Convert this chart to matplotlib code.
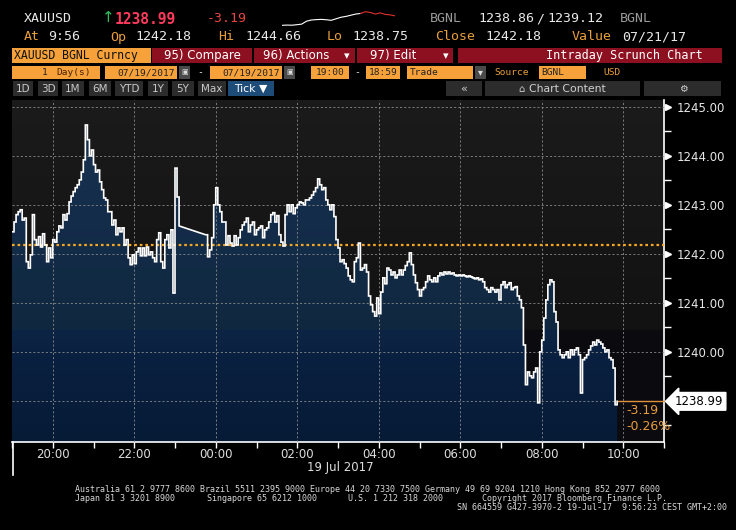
import numpy as np
import pandas as pd
import matplotlib
matplotlib.use("Agg")
import matplotlib.pyplot as plt
import matplotlib.dates as mdates
from matplotlib.patches import Rectangle, PathPatch
from matplotlib.path import Path
from matplotlib.lines import Line2D
from matplotlib.colors import to_rgb
from matplotlib.ticker import MultipleLocator, FuncFormatter

# ---------------- data ----------------
session1_start, session1_end = "2017-07-18 19:00", "2017-07-18 23:06"
session2_start, session2_end = "2017-07-18 23:45", "2017-07-19 09:51"
tick_step = "3min"

session1_prices = [
    1242.45, 1242.65, 1242.80, 1242.86, 1242.90, 1242.69, 1242.73, 1241.84, 1241.71, 1241.98,
    1242.80, 1242.29, 1242.18, 1242.35, 1242.14, 1242.41, 1242.18, 1241.84, 1242.12, 1241.92,
    1242.29, 1242.24, 1242.45, 1242.57, 1242.53, 1242.80, 1242.69, 1242.82, 1243.06, 1243.18,
    1243.27, 1243.35, 1243.41, 1243.51, 1243.67, 1243.92, 1244.63, 1244.33, 1244.00, 1244.12,
    1243.82, 1243.67, 1243.71, 1243.47, 1243.31, 1243.14, 1243.10, 1242.86, 1242.86, 1242.59,
    1242.69, 1242.39, 1242.53, 1242.45, 1242.53, 1242.18, 1242.29, 1241.92, 1241.78, 1241.98,
    1241.80, 1242.04, 1242.12, 1241.96, 1242.12, 1241.96, 1242.14, 1241.98, 1242.04, 1241.92,
    1241.84, 1242.29, 1242.43, 1241.84, 1241.71, 1242.29, 1242.39, 1242.12, 1242.49, 1241.20,
    1243.75, 1243.16, 1242.57]

session2_prices = [
    1242.39, 1241.94, 1242.08, 1242.33, 1243.00, 1243.35, 1243.00, 1242.86, 1242.65, 1242.65,
    1242.18, 1242.37, 1242.22, 1242.16, 1242.37, 1242.18, 1242.33, 1242.49, 1242.59, 1242.65,
    1242.73, 1242.45, 1242.59, 1242.65, 1242.39, 1242.49, 1242.53, 1242.57, 1242.33, 1242.49,
    1242.53, 1242.65, 1242.80, 1242.84, 1242.65, 1242.78, 1242.39, 1242.24, 1242.16, 1242.80,
    1243.00, 1242.86, 1243.00, 1242.82, 1242.94, 1243.00, 1243.06, 1243.04, 1243.00, 1243.10,
    1243.10, 1243.14, 1243.20, 1243.27, 1243.35, 1243.53, 1243.41, 1243.31, 1243.35, 1243.10,
    1243.00, 1242.90, 1243.00, 1242.76, 1242.29, 1242.12, 1241.84, 1241.88, 1241.80, 1241.71,
    1241.55, 1241.47, 1241.43, 1241.84, 1241.92, 1242.22, 1241.67, 1241.71, 1241.78, 1241.63,
    1241.14, 1240.96, 1240.82, 1240.73, 1241.10, 1240.78, 1241.22, 1241.51, 1241.39, 1241.71,
    1241.67, 1241.57, 1241.63, 1241.51, 1241.57, 1241.67, 1241.57, 1241.67, 1241.76, 1241.84,
    1242.02, 1241.78, 1241.57, 1241.41, 1241.27, 1241.14, 1241.27, 1241.31, 1241.43, 1241.55,
    1241.47, 1241.43, 1241.51, 1241.43, 1241.55, 1241.61, 1241.57, 1241.63, 1241.59, 1241.63,
    1241.59, 1241.61, 1241.57, 1241.55, 1241.57, 1241.55, 1241.57, 1241.55, 1241.53, 1241.55,
    1241.53, 1241.51, 1241.49, 1241.51, 1241.47, 1241.49, 1241.43, 1241.31, 1241.27, 1241.22,
    1241.31, 1241.27, 1241.22, 1241.27, 1241.06, 1241.37, 1241.43, 1241.31, 1241.37, 1241.41,
    1241.27, 1241.31, 1241.33, 1241.14, 1241.06, 1240.90, 1240.14, 1239.33, 1239.59, 1239.51,
    1239.47, 1239.59, 1239.67, 1238.96, 1240.00, 1240.24, 1240.69, 1241.06, 1241.37, 1241.47,
    1241.43, 1240.82, 1240.61, 1240.04, 1239.94, 1239.88, 1239.94, 1240.00, 1239.88, 1240.04,
    1239.94, 1240.04, 1240.08, 1239.94, 1239.16, 1239.84, 1239.88, 1239.94, 1240.04, 1240.12,
    1240.20, 1240.14, 1240.24, 1240.20, 1240.16, 1240.08, 1240.00, 1240.04, 1239.88, 1239.84,
    1239.67, 1238.92, 1238.99]

prev_close = 1242.18
last_price = 1238.99
net_change = "-3.19"
pct_change = "-0.26%"
y_labels = [1240, 1241, 1242, 1243, 1244, 1245]

spark_up = [1.0, 1.2, 1.1, 1.5, 2.0, 4.5, 5.5, 5.8, 6.0, 5.7, 5.2, 6.5, 7.8, 8.5, 9.5, 10.5, 11.0]
spark_down = [11.0, 12.5, 11.8, 10.5, 11.5, 10.2, 9.8, 9.0]

footer_1 = "Australia 61 2 9777 8600 Brazil 5511 2395 9000 Europe 44 20 7330 7500 Germany 49 69 9204 1210 Hong Kong 852 2977 6000"
footer_2 = ["Japan 81 3 3201 8900", "Singapore 65 6212 1000", "U.S. 1 212 318 2000",
            "Copyright 2017 Bloomberg Finance L.P."]
footer_3 = "SN 664559 G427-3970-2 19-Jul-17  9:56:23 CEST GMT+2:00"

# ---------------- figure ----------------
W, H = 736, 530
MONO = ["DejaVu Sans Mono", "DejaVu Sans"]
SANS = ["DejaVu Sans"]
ORANGE_TXT = "#e89e3c"
ORANGE_BOX = "#f6a13a"
RED_BOX = "#8c1020"
BTN = "#2c2c2c"
WHITE = "#e8e8e8"

fig = plt.figure(figsize=(W / 100, H / 100), dpi=100, facecolor="black")


def fx(x):
    return x / W


def fy(y):
    return 1 - y / H


def rect(x0, y0, x1, y1, color):
    fig.patches.append(Rectangle((fx(x0), fy(y1)), (x1 - x0) / W, (y1 - y0) / H,
                                 transform=fig.transFigure, facecolor=color,
                                 edgecolor="none"))


def txt(x, y, s, color, size, ha="left", family=MONO, weight="normal"):
    fig.text(fx(x), fy(y), s, color=color, fontsize=size, ha=ha, va="center",
             family=family, weight=weight)


# ---- main axes
ax = fig.add_axes([12 / W, 1 - 442 / H, 652 / W, 342 / H])
ax.set_facecolor("#111111")

t1 = mdates.date2num(pd.date_range(session1_start, session1_end, freq=tick_step))
t2 = mdates.date2num(pd.date_range(session2_start, session2_end, freq=tick_step))


def step_expand(t, p):
    p = np.asarray(p, dtype=float)
    return np.repeat(t, 2)[1:], np.repeat(p, 2)[:-1]


x1s, y1s = step_expand(t1, session1_prices)
x2s, y2s = step_expand(t2, session2_prices)
xs = np.concatenate([x1s, x2s])
ys = np.concatenate([y1s, y2s])

xmin = mdates.date2num(pd.Timestamp("2017-07-18 19:00"))
xmax = mdates.date2num(pd.Timestamp("2017-07-19 11:00"))
ylo, yhi = 1238.16, 1245.14


def gradient(stops, n=500):
    pr = np.linspace(ylo, yhi, n)
    sp = [s[0] for s in stops]
    cols = np.array([to_rgb(s[1]) for s in stops])
    img = np.zeros((n, 1, 3))
    for c in range(3):
        img[:, 0, c] = np.interp(pr, sp, cols[:, c])
    return img


bg = gradient([(ylo, "#0a0a0f"), (1240.44, "#0c0c10"), (1240.46, "#121212"), (yhi, "#1b1b1b")])
ax.imshow(bg, extent=[xmin, xmax, ylo, yhi], origin="lower", aspect="auto",
          zorder=0, interpolation="bilinear")

fill = gradient([(ylo, "#051b36"), (1239.9, "#0a2040"), (1240.44, "#0d2545"),
                 (1240.46, "#10283f"), (1243.0, "#142d4b"), (yhi, "#193452")])
im = ax.imshow(fill, extent=[xmin, xmax, ylo, yhi], origin="lower", aspect="auto",
               zorder=1, interpolation="bilinear")
verts = [(xs[0], ylo)] + list(zip(xs, ys)) + [(xs[-1], ylo), (xs[0], ylo)]
clip = PathPatch(Path(verts), transform=ax.transData, facecolor="none", edgecolor="none")
im.set_clip_path(clip)

ax.plot(xs, ys, color="white", lw=1.2, zorder=4, solid_joinstyle="miter")
ax.axhline(prev_close, color="#f5a623", lw=1.6, ls=(0, (1.2, 1.3)), zorder=3)
ax.plot([xs[-1], xmax], [last_price, last_price], color="#e0913a", lw=1.0,
        zorder=3, clip_on=False)

ax.set_xlim(xmin, xmax)
ax.set_ylim(ylo, yhi)
ax.set_axisbelow(False)
ax.grid(True, which="major", color="#8a8a8a", lw=0.6, ls=(0, (2.5, 2.5)))

ax.xaxis.set_major_locator(mdates.HourLocator(byhour=range(0, 24, 2)))
ax.xaxis.set_minor_locator(mdates.HourLocator())
ax.xaxis.set_major_formatter(mdates.DateFormatter("%H:%M"))
ax.tick_params(axis="x", which="both", colors="white", length=4, width=1,
               labelsize=8.5, labelcolor="#dedede", pad=0.5)

ax.yaxis.tick_right()
ax.yaxis.set_major_locator(MultipleLocator(1))
ax.yaxis.set_minor_locator(MultipleLocator(0.5))
ax.yaxis.set_major_formatter(FuncFormatter(lambda v, _: f"{v:.2f}" if round(v) in y_labels else ""))
ax.tick_params(axis="y", which="major", length=0, pad=9, labelsize=8.5, labelcolor="#e6e6e6")
ax.tick_params(axis="y", which="minor", length=5, width=1, color="white")
for v in y_labels:
    ax.plot([1 + 4 / 652], [v], marker=">", ms=5, color="white", mec="white",
            transform=ax.get_yaxis_transform(), clip_on=False, zorder=5)

for s in ["top", "left"]:
    ax.spines[s].set_visible(False)
for s in ["right", "bottom"]:
    ax.spines[s].set_color("white")
    ax.spines[s].set_linewidth(1.2)

ax.text(1 + 11 / 652, last_price, f"{last_price:.2f}", transform=ax.get_yaxis_transform(),
        color="black", fontsize=8.5, ha="left", va="center", clip_on=False, zorder=6,
        bbox=dict(boxstyle="larrow,pad=0.2", fc="white", ec="white"))
t_lbl = mdates.date2num(pd.Timestamp("2017-07-19 10:05"))
ax.text(t_lbl, 1238.80, net_change, color="#e89e3c", fontsize=9, ha="left", va="center", zorder=6)
ax.text(t_lbl, 1238.47, pct_change, color="#e89e3c", fontsize=9, ha="left", va="center", zorder=6)

fig.add_artist(Line2D([fx(12.5)] * 2, [fy(442), fy(475)], color="white", lw=1.2))
txt(340, 467, "19 Jul 2017", "#dedede", 8.5, ha="center", family=SANS)

# ---- header row 1
txt(24, 19, "XAUUSD", WHITE, 9.5)
txt(102, 18, "↑", "#30c060", 11, family=SANS)
txt(115, 19, "1238.99", "#ff3a5c", 10.5, weight="bold")
txt(207, 19, net_change, "#e84545", 9.5)
txt(430, 19, "BGNL", "#9a9a9a", 9.5)
txt(478, 19, "1238.86", WHITE, 9.5)
txt(536, 19, "/", WHITE, 9.5)
txt(547, 19, "1239.12", WHITE, 9.5)
txt(620, 19, "BGNL", "#9a9a9a", 9.5)

sax = fig.add_axes([282 / W, 1 - 26 / H, 113 / W, 15 / H])
sax.set_axis_off()
n_up = len(spark_up)
sax.plot(range(n_up), spark_up, color="white", lw=0.8)
sax.plot(range(n_up - 1, n_up - 1 + len(spark_down)), spark_down, color="#e03030", lw=0.8)
sax.set_xlim(0, n_up + len(spark_down) - 2)

# ---- header row 2
for x, s, c in [(24, "At", ORANGE_TXT), (48, "9:56", WHITE), (110, "Op", ORANGE_TXT),
                (135, "1242.18", WHITE), (218, "Hi", ORANGE_TXT), (245, "1244.66", WHITE),
                (327, "Lo", ORANGE_TXT), (352, "1238.75", WHITE), (435, "Close", ORANGE_TXT),
                (485, "1242.18", WHITE), (572, "Value", ORANGE_TXT), (622, "07/21/17", WHITE)]:
    txt(x, 37, s, c, 9.5)

# ---- row 3
rect(12, 48, 151, 63, ORANGE_BOX)
txt(14, 56, "XAUUSD BGNL Curncy", "#111111", 8.3)
rect(152, 48, 252, 63, RED_BOX)
txt(202, 56, "95) Compare", "white", 8.5, ha="center", family=SANS)
rect(254, 48, 355, 63, RED_BOX)
txt(296, 56, "96) Actions", "white", 8.5, ha="center", family=SANS)
txt(347, 56, "▾", "white", 8, ha="center", family=SANS)
rect(357, 48, 453, 63, RED_BOX)
txt(393, 56, "97) Edit", "white", 8.5, ha="center", family=SANS)
txt(446, 56, "▾", "white", 8, ha="center", family=SANS)
rect(458, 48, 722, 63, RED_BOX)
txt(703, 56, "Intraday Scrunch Chart", "white", 8.5, ha="right")

# ---- row 4
rect(12, 66, 100, 79, ORANGE_BOX)
txt(48, 72.5, "1", "#222222", 6.8, ha="right")
txt(56, 72.5, "Day(s)", "#4a2200", 6.8)
rect(105, 66, 177, 79, ORANGE_BOX)
txt(175, 72.5, "07/19/2017", "#222222", 6.8, ha="right")
rect(179, 66, 190, 79, "#4a4a4a")
txt(184.5, 72.5, "▣", "#dddddd", 5, ha="center", family=SANS)
txt(200, 72.5, "-", "#dddddd", 7, ha="center")
rect(210, 66, 282, 79, ORANGE_BOX)
txt(280, 72.5, "07/19/2017", "#222222", 6.8, ha="right")
rect(284, 66, 295, 79, "#4a4a4a")
txt(289.5, 72.5, "▣", "#dddddd", 5, ha="center", family=SANS)
rect(311, 66, 349, 79, ORANGE_BOX)
txt(330, 72.5, "19:00", "#222222", 6.8, ha="center")
txt(357, 72.5, "-", "#dddddd", 7, ha="center")
rect(366, 66, 400, 79, ORANGE_BOX)
txt(383, 72.5, "18:59", "#222222", 6.8, ha="center")
rect(407, 66, 473, 79, ORANGE_BOX)
txt(410, 72.5, "Trade", "#222222", 6.8)
rect(475, 66, 486, 79, "#4a4a4a")
txt(480.5, 72.5, "▾", "#dddddd", 7, ha="center", family=SANS)
txt(494, 72.5, "Source", ORANGE_TXT, 6.8)
rect(539, 66, 586, 79, ORANGE_BOX)
txt(541, 72.5, "BGNL", "#222222", 6.8)
txt(603, 72.5, "USD", ORANGE_TXT, 6.8)

# ---- row 5
for x0, x1, s in [(13, 33, "1D"), (38, 58, "3D"), (62, 84, "1M"), (89, 111, "6M"),
                  (115, 143, "YTD"), (148, 168, "1Y"), (172, 194, "5Y"), (198, 226, "Max")]:
    rect(x0, 81, x1, 96, BTN)
    txt((x0 + x1) / 2, 88.5, s, "#c8c8c8", 7.5, ha="center", family=SANS)
rect(228, 81, 274, 96, "#1e4c78")
txt(251, 88.5, "Tick ▼", "white", 7.8, ha="center", family=SANS)
rect(446, 81, 482, 96, BTN)
txt(464, 88.5, "«", "#d0d0d0", 8, ha="center", family=SANS)
rect(485, 81, 640, 96, BTN)
txt(521, 88.5, "⌂", "#d0d0d0", 7, ha="center", family=SANS)
txt(529, 88.5, "Chart Content", "#d0d0d0", 7.8, family=SANS)
rect(644, 81, 721, 96, BTN)
txt(683, 88.5, "⚙", "#d0d0d0", 7, ha="center", family=SANS)

# ---- footer
txt(75, 489, footer_1, "#d8d8d8", 6.0)
for x, s in zip([75, 207, 348, 482], footer_2):
    txt(x, 498.5, s, "#d8d8d8", 6.0)
txt(727, 508, footer_3, "#d8d8d8", 6.0, ha="right")

fig.savefig("out.png", dpi=100, facecolor="black")
